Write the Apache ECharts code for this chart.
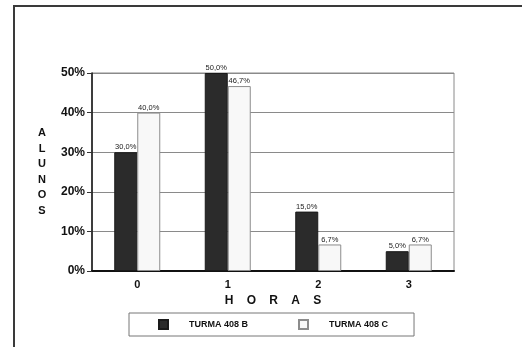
<!DOCTYPE html>
<html>
<head>
<meta charset="utf-8">
<script src="https://cdn.jsdelivr.net/npm/echarts@6/dist/echarts.min.js"></script>
<style>
  html, body { margin: 0; padding: 0; background: #fff; }
  #chart { width: 522px; height: 347px; }
</style>
</head>
<body>
<div id="chart"></div>
<script>
// Hours of study per class (share of students)
const horas = ['0', '1', '2', '3'];
const turmaB = [30.0, 50.0, 15.0, 5.0];
const turmaC = [40.0, 46.7, 6.7, 6.7];
const seriesNames = ['TURMA 408 B', 'TURMA 408 C'];
const yTicks = { min: 0, max: 50, interval: 10 };

const FONT = '"Liberation Sans", Arial, sans-serif';

function pct(v) {
  return v.toFixed(1).replace('.', ',') + '%';
}

const chart = echarts.init(document.getElementById('chart'), null, { renderer: 'canvas' });

const barLabel = {
  show: true,
  position: 'top',
  distance: 1,
  fontFamily: FONT,
  fontSize: 7.5,
  color: '#222',
  formatter: p => pct(p.value)
};

chart.setOption({
  animation: false,
  backgroundColor: '#ffffff',
  textStyle: { fontFamily: FONT },
  graphic: [{
    type: 'rect',
    shape: { x: 14, y: 6, width: 600, height: 400 },
    style: { fill: 'none', stroke: '#3a3a3a', lineWidth: 2 },
    silent: true
  }],
  grid: {
    left: 92, right: 68, top: 73, bottom: 76,
    show: true, borderColor: '#8a8a8a', borderWidth: 1, backgroundColor: '#fff'
  },
  legend: {
    data: seriesNames,
    left: 129, top: 313,
    orient: 'horizontal',
    itemWidth: 9, itemHeight: 9,
    itemGap: 50,
    padding: [6, 26, 6, 29],
    borderColor: '#777', borderWidth: 1,
    icon: 'rect',
    textStyle: {
      fontFamily: FONT, fontSize: 9, fontWeight: 'bold', color: '#111',
      padding: [0, 0, 0, 16]
    }
  },
  xAxis: {
    type: 'category',
    data: horas,
    name: 'H    O    R    A    S',
    nameLocation: 'middle',
    nameGap: 23,
    nameTextStyle: { fontFamily: FONT, fontSize: 12, fontWeight: 'bold', color: '#111' },
    axisLine: { lineStyle: { color: '#111', width: 2 } },
    axisTick: { show: false },
    axisLabel: { fontFamily: FONT, fontSize: 11, fontWeight: 'bold', color: '#111', margin: 8 }
  },
  yAxis: {
    type: 'value',
    min: yTicks.min, max: yTicks.max, interval: yTicks.interval,
    name: 'A\nL\nU\nN\nO\nS',
    nameLocation: 'middle',
    nameRotate: 0,
    nameGap: 50,
    nameTextStyle: {
      fontFamily: FONT, fontSize: 11, fontWeight: 'bold', color: '#111',
      lineHeight: 15.6, align: 'center'
    },
    axisLine: { show: true, lineStyle: { color: '#111', width: 1.5 } },
    axisTick: { show: true, length: 5, lineStyle: { color: '#333' } },
    axisLabel: {
      fontFamily: FONT, fontSize: 12, fontWeight: 'bold', color: '#111', margin: 7,
      formatter: '{value}%'
    },
    splitLine: { lineStyle: { color: '#8a8a8a', width: 1 } }
  },
  series: [
    {
      name: seriesNames[0],
      type: 'bar',
      data: turmaB,
      barWidth: 23,
      barGap: '0%',
      itemStyle: { color: '#2b2b2b', borderColor: '#1a1a1a', borderWidth: 1 },
      label: barLabel
    },
    {
      name: seriesNames[1],
      type: 'bar',
      data: turmaC,
      barWidth: 23,
      itemStyle: { color: '#f8f8f8', borderColor: '#8c8c8c', borderWidth: 1 },
      label: barLabel
    }
  ]
});
</script>
</body>
</html>
